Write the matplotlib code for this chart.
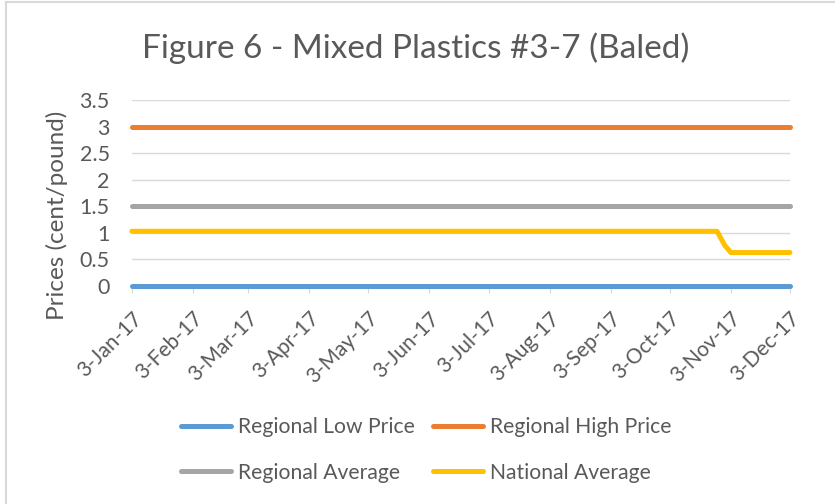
import datetime as dt

import matplotlib
matplotlib.use('Agg')
import matplotlib.pyplot as plt
import matplotlib.dates as mdates
from matplotlib.lines import Line2D


# data
flat_dates = ['2017-01-03', '2017-12-03']
regional_low = [0, 0]
regional_high = [3, 3]
regional_avg = [1.5, 1.5]

national_dates = ['2017-01-03', '2017-10-27', '2017-10-31', '2017-11-01',
                  '2017-11-03', '2017-12-03']
national_avg = [1.03, 1.03, 0.76, 0.72, 0.63, 0.63]

tick_dates = ['2017-%02d-03' % m for m in range(1, 13)]

TEXT = '#595959'
GRID = '#D9D9D9'
COLORS = {
    'Regional Low Price': '#5B9BD5',
    'Regional High Price': '#ED7D31',
    'Regional Average': '#A5A5A5',
    'National Average': '#FFC000',
}

plt.rcParams['font.family'] = ['Lato', 'DejaVu Sans']


def to_dates(values):
    return [dt.datetime.strptime(v, '%Y-%m-%d') for v in values]


fig = plt.figure(figsize=(8.35, 5.04), dpi=100)
ax = fig.add_axes([0.158, 0.4325, 0.788, 0.3691])

lw = 3.6
ax.plot(to_dates(flat_dates), regional_low, color=COLORS['Regional Low Price'],
        lw=lw, solid_capstyle='round', zorder=3, clip_on=False)
ax.plot(to_dates(flat_dates), regional_high, color=COLORS['Regional High Price'],
        lw=lw, solid_capstyle='round', zorder=3, clip_on=False)
ax.plot(to_dates(flat_dates), regional_avg, color=COLORS['Regional Average'],
        lw=lw, solid_capstyle='round', zorder=3, clip_on=False)
ax.plot(to_dates(national_dates), national_avg, color=COLORS['National Average'],
        lw=lw, solid_capstyle='round', solid_joinstyle='round', zorder=3, clip_on=False)

ticks = to_dates(tick_dates)
ax.set_xlim(ticks[0], ticks[-1])
ax.set_xticks(ticks)
ax.xaxis.set_major_formatter(mdates.DateFormatter('%-d-%b-%y'))
ax.set_ylim(0, 3.5)
ax.set_yticks([0, 0.5, 1, 1.5, 2, 2.5, 3, 3.5])
ax.set_yticklabels(['0', '0.5', '1', '1.5', '2', '2.5', '3', '3.5'])

ax.grid(axis='y', color=GRID, lw=1)
ax.set_axisbelow(True)
for side in ['top', 'right', 'left']:
    ax.spines[side].set_visible(False)
ax.spines['bottom'].set_color(GRID)
ax.tick_params(axis='y', length=0, pad=16, labelsize=15.5, labelcolor=TEXT)
ax.tick_params(axis='x', length=5, color=GRID, pad=11, labelsize=15, labelcolor=TEXT)
plt.setp(ax.get_xticklabels(), rotation=45, ha='right', rotation_mode='anchor')

ax.set_ylabel('Prices (cent/pound)', fontsize=17.5, color=TEXT)
ax.yaxis.set_label_coords(-0.097, 0.38)
fig.text(0.498, 0.905, 'Figure 6 - Mixed Plastics #3-7 (Baled)', fontsize=24,
         color=TEXT, ha='center', va='center')

# legend: row 1 low/high, row 2 averages
order = ['Regional Low Price', 'Regional Average', 'Regional High Price', 'National Average']
handles = [Line2D([], [], color=COLORS[k], lw=lw, solid_capstyle='round') for k in order]
leg = fig.legend(handles, order, loc='center', bbox_to_anchor=(0.51, 0.107), ncol=2,
                 frameon=False, fontsize=15.2, handlelength=2.4, handletextpad=0.3,
                 columnspacing=0.85, labelspacing=1.2)
for t in leg.get_texts():
    t.set_color(TEXT)

# chart-area border (only left/top edges visible in the reference)
fig.add_artist(Line2D([0.0072, 0.0072], [0, 0.996], color=GRID, lw=1.5, transform=fig.transFigure))
fig.add_artist(Line2D([0.0072, 1], [0.996, 0.996], color=GRID, lw=1.5, transform=fig.transFigure))

fig.savefig('out.png', dpi=100)
